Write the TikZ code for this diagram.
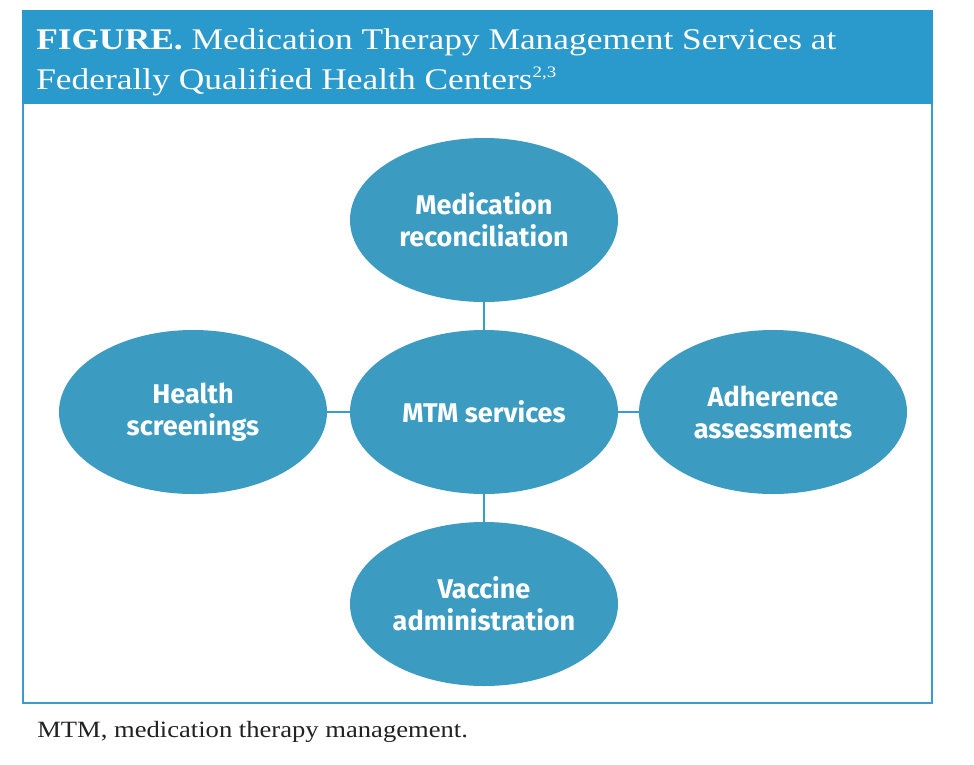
\documentclass[tikz,border=0pt]{standalone}
\usepackage{fontspec}
\usetikzlibrary{shapes.geometric}
\setmainfont{Liberation Serif}
\newfontfamily\titlefont[FakeStretch=1.18]{Liberation Serif}
\newfontfamily\footfont[FakeStretch=1.14]{Liberation Serif}
\newfontfamily\bubblefont{Fira Sans}
\definecolor{headblue}{HTML}{2A99CC}
\definecolor{lineblue}{HTML}{3A9BD0}
\definecolor{bubble}{HTML}{3C9BC1}
\definecolor{foot}{HTML}{222222}
\tikzset{
  bubblenode/.style={ellipse, fill=bubble, inner sep=0pt, minimum width=201pt, minimum height=123pt,
    text=white, align=center, font=\bubblefont\bfseries\fontsize{20.3}{24}\selectfont},
  link/.style={draw=lineblue, line width=1.5pt}
}
\begin{document}
\begin{tikzpicture}[x=0.75pt,y=-0.75pt]
\useasboundingbox (0,0) rectangle (974,764);
\fill[white] (0,0) rectangle (974,764);
% header and frame
\draw[lineblue, line width=1.5pt] (23,103) rectangle (932,703);
\fill[headblue] (22,10) rectangle (933,104);
\node[anchor=base west, inner sep=0pt, text=white, align=left,
  font=\titlefont\fontsize{22.5}{30}\selectfont] (title) at (36,89)
  {\textbf{FIGURE.} Medication Therapy Management Services at\\Federally Qualified Health Centers\raisebox{0.38em}{\fontsize{12}{12}\selectfont 2,3}};
% bubbles
\node[bubblenode] (mtm) at (484,412) {MTM services};
\node[bubblenode] (rec) at (484,220) {Medication\\reconciliation};
\node[bubblenode] (hs) at (193,412) {Health\\screenings};
\node[bubblenode] (adh) at (773,412) {Adherence\\assessments};
\node[bubblenode] (vac) at (484,604) {Vaccine\\administration};
% links
\draw[link] (rec.south) -- (mtm.north);
\draw[link] (mtm.south) -- (vac.north);
\draw[link] (hs.east) -- (mtm.west);
\draw[link] (mtm.east) -- (adh.west);
% footnote
\node[anchor=base west, inner sep=0pt, text=foot, font=\footfont\fontsize{17.5}{21}\selectfont] (fn) at (37,737)
  {MTM, medication therapy management.};
\end{tikzpicture}
\end{document}
